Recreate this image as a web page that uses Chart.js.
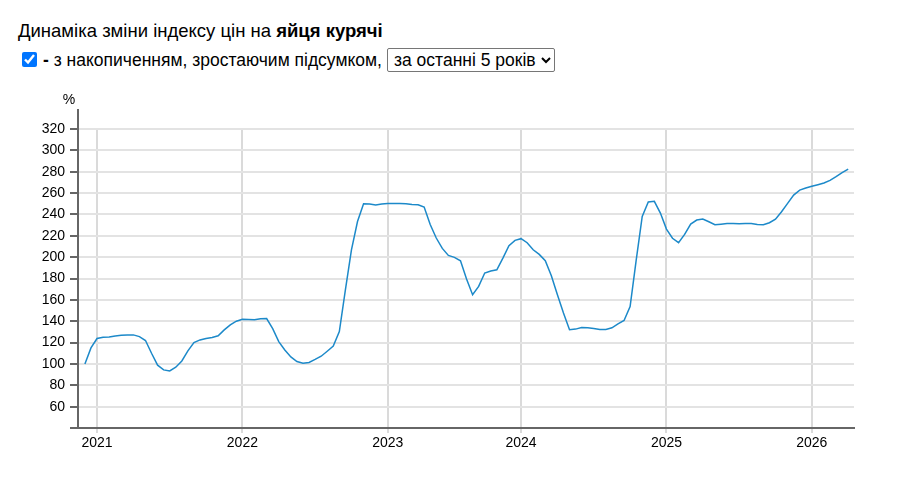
<!DOCTYPE html>
<html>
<head>
<meta charset="utf-8">
<script src="https://cdn.jsdelivr.net/npm/chart.js@4.4.1/dist/chart.umd.min.js"></script>
<style>
  html, body { margin: 0; padding: 0; background: #fff; }
  body { width: 920px; height: 478px; position: relative; font-family: Arial, "Liberation Sans", sans-serif; color: #000; overflow: hidden; }
  #title { position: absolute; left: 18px; top: 20px; font-size: 18.5px; line-height: 22px; white-space: nowrap; }
  #cb { position: absolute; left: 22px; top: 52px; width: 15px; height: 15px; margin: 0; accent-color: #0075ff; }
  #opt { position: absolute; left: 43px; top: 49px; font-size: 17.5px; line-height: 22px; white-space: nowrap; }
  #sel { position: absolute; left: 387px; top: 48px; width: 168px; height: 24px; font-size: 17.5px; font-family: Arial, "Liberation Sans", sans-serif; padding: 0 0 0 2px; border: 1px solid #767676; border-radius: 2px; background: #fff; color: #000; }
  #wrap { position: absolute; left: 0; top: 80px; width: 900px; height: 380px; }
</style>
</head>
<body>
<div id="title">Динаміка зміни індексу цін на <b>яйця курячі</b></div>
<input type="checkbox" id="cb" checked>
<div id="opt"><b>-</b> з накопиченням, зростаючим підсумком,</div>
<select id="sel"><option>за останні 5 років</option></select>
<div id="wrap"><canvas id="c"></canvas></div>
<script>
// Semi-monthly cumulative price index values (%), grouped by year
const years = ['2020', '2021', '2022', '2023', '2024', '2025', '2026'];
const values2020 = [100, 115];
const values2021 = [123.8, 125, 125.3, 126.2, 126.9, 127.2, 127.2, 125.6, 121.9, 110, 98.8, 94.4,
                    93.4, 96.9, 102.8, 112.2, 120, 122.5, 123.8, 124.7, 126.3, 131.9, 136.6, 140];
const values2022 = [141.9, 141.6, 141.3, 142.2, 142.5, 133, 120.9, 113.1, 106.6, 102.2, 100.6, 101.4,
                    104.2, 107.2, 111.9, 116.7, 130.3, 169.4, 206.9, 233.4, 250, 249.7, 248.8, 249.7];
const values2023 = [250.3, 250.3, 250.3, 250.1, 249.4, 249.1, 246.9, 230.5, 217.9, 208.2, 201.6,
                    199.8, 196.6, 179.5, 164.8, 172.6, 185.1, 187, 188.2, 199.1, 210.7, 215.7];
const values2024 = [217.3, 213.5, 206.9, 202.6, 196.6, 182.6, 164.8, 147.6, 132, 132.6, 134.1, 133.8,
                    133.2, 132.3, 132.3, 133.8, 137.6, 140.7, 153.8, 197, 238.2, 251.6, 252.3, 241.3];
const values2025 = [226.3, 217.7, 213.6, 221.3, 230.9, 234.7, 235.6, 233.1, 230.3, 230.9, 231.6, 231.6,
                    231.3, 231.6, 231.6, 230.6, 230.3, 232.2, 235.6, 242.5, 250.3, 258.1, 262.8, 264.7];
const values2026 = [266.3, 267.8, 269.4, 271.9, 275.3, 279.1, 282.4];
const yTickValues = [60, 80, 100, 120, 140, 160, 180, 200, 220, 240, 260, 280, 300, 320];

const groups = [values2020, values2021, values2022, values2023, values2024, values2025, values2026];
const points = [];
const yearStart = {};
groups.forEach((g, gi) => {
  if (gi > 0) yearStart[points.length] = years[gi];
  g.forEach(v => points.push({ x: points.length, y: v }));
});
const yearTicks = Object.keys(yearStart).map(Number);

const extras = {
  id: 'extras',
  afterDraw(chart) {
    const { ctx, chartArea } = chart;
    ctx.save();
    ctx.strokeStyle = '#666';
    ctx.lineWidth = 2;
    ctx.beginPath();
    ctx.moveTo(chartArea.left, chartArea.top + 1);
    ctx.lineTo(chartArea.left, chartArea.top - 20);
    ctx.stroke();
    ctx.fillStyle = '#000';
    ctx.font = '14px Arial, "Liberation Sans", sans-serif';
    ctx.textAlign = 'center';
    ctx.textBaseline = 'middle';
    ctx.fillText('%', chartArea.left - 9, chartArea.top - 29);
    ctx.restore();
  }
};

new Chart(document.getElementById('c'), {
  type: 'line',
  data: {
    datasets: [{
      data: points,
      borderColor: 'rgb(28,137,201)',
      borderWidth: 1.5,
      pointRadius: 0,
      tension: 0,
      fill: false
    }]
  },
  options: {
    responsive: true,
    maintainAspectRatio: false,
    animation: false,
    layout: { padding: { top: 49, left: 0, right: 46, bottom: 0 } },
    plugins: { legend: { display: false }, tooltip: { enabled: false } },
    scales: {
      x: {
        type: 'linear',
        min: -1.14,
        max: 126.96,
        afterBuildTicks(scale) { scale.ticks = yearTicks.map(v => ({ value: v })); },
        afterFit(scale) { scale.height = 32; },
        ticks: {
          autoSkip: false, maxRotation: 0, padding: 2,
          color: '#000',
          font: { size: 14, family: 'Arial, "Liberation Sans", sans-serif' },
          callback: (v) => yearStart[v] || ''
        },
        grid: { color: '#dadada', lineWidth: 2, tickLength: 5, tickColor: '#dadada' },
        border: { color: '#666', width: 2 }
      },
      y: {
        min: 40,
        max: 320,
        afterBuildTicks(scale) { scale.ticks = [40].concat(yTickValues).map(v => ({ value: v })); },
        afterFit(scale) { scale.width = 78; },
        ticks: {
          padding: 5,
          color: '#000',
          font: { size: 14, family: 'Arial, "Liberation Sans", sans-serif' },
          callback: (v) => (v === 40 ? '' : v)
        },
        grid: {
          color: (c) => (c.tick && c.tick.value === 40 ? 'rgba(0,0,0,0)' : '#e3e3e3'),
          lineWidth: 2, tickLength: 8, tickColor: '#666'
        },
        border: { color: '#666', width: 2 }
      }
    }
  },
  plugins: [extras]
});
</script>
</body>
</html>
